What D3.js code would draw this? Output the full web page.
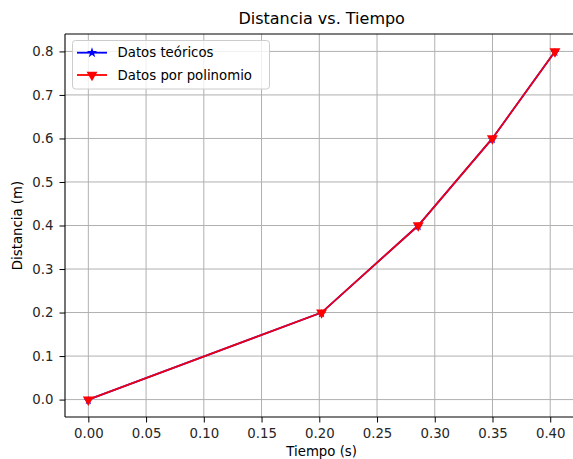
<!DOCTYPE html>
<html>
<head>
<meta charset="utf-8">
<script src="https://cdn.jsdelivr.net/npm/d3@7"></script>
<style>
  html, body { margin: 0; padding: 0; background: #fff; }
  svg { display: block; font-family: "DejaVu Sans", sans-serif; }
</style>
</head>
<body>
<div id="chart"></div>
<script>
  // values
  const tiempo = [0.0, 0.2020, 0.2857, 0.3499, 0.4041];
  const teoricos = [0.0, 0.2, 0.4, 0.6, 0.8];
  const polinomio = [0.0, 0.2, 0.4, 0.6, 0.8];
  const xTicks = [0.00, 0.05, 0.10, 0.15, 0.20, 0.25, 0.30, 0.35, 0.40];
  const yTicks = [0.0, 0.1, 0.2, 0.3, 0.4, 0.5, 0.6, 0.7, 0.8];
  const seriesNames = ['Datos teóricos', 'Datos por polinomio'];

  const W = 573, H = 459;
  const pL = 65, pR = 578.3, pT = 34, pB = 417;

  const svg = d3.select('#chart').append('svg')
    .attr('width', W).attr('height', H);

  // matplotlib-style 5% margins
  const xSpan = d3.max(tiempo) - d3.min(tiempo);
  const x = d3.scaleLinear()
    .domain([d3.min(tiempo) - xSpan * 0.05, d3.max(tiempo) + xSpan * 0.05])
    .range([pL, pR]);
  const ySpan = d3.max(teoricos) - d3.min(teoricos);
  const y = d3.scaleLinear()
    .domain([d3.min(teoricos) - ySpan * 0.05, d3.max(teoricos) + ySpan * 0.05])
    .range([pB, pT]);

  // grid
  const grid = svg.append('g').attr('stroke', '#b0b0b0').attr('stroke-width', 1);
  grid.selectAll('.gx').data(xTicks).join('line').attr('class', 'gx')
    .attr('x1', d => x(d)).attr('x2', d => x(d))
    .attr('y1', pT).attr('y2', pB);
  grid.selectAll('.gy').data(yTicks).join('line').attr('class', 'gy')
    .attr('x1', pL).attr('x2', pR)
    .attr('y1', d => y(d)).attr('y2', d => y(d));

  // axes
  const xAxis = svg.append('g')
    .attr('transform', `translate(0,${pB})`)
    .call(d3.axisBottom(x).tickValues(xTicks).tickFormat(d3.format('.2f')).tickSize(5.5).tickPadding(6));
  const yAxis = svg.append('g')
    .attr('transform', `translate(${pL},0)`)
    .call(d3.axisLeft(y).tickValues(yTicks).tickFormat(d3.format('.1f')).tickSize(5.5).tickPadding(6));
  [xAxis, yAxis].forEach(a => {
    a.selectAll('text').attr('font-size', 13.3).attr('fill', '#262626')
      .attr('font-family', '"DejaVu Sans", sans-serif');
    a.selectAll('.tick line').attr('stroke', '#000').attr('stroke-width', 1);
    a.select('.domain').remove();
  });

  // spines
  svg.append('line').attr('x1', pL).attr('x2', pR).attr('y1', pB).attr('y2', pB)
    .attr('stroke', '#000').attr('stroke-width', 1.1);
  svg.append('line').attr('x1', pL).attr('x2', pR).attr('y1', pT).attr('y2', pT)
    .attr('stroke', '#000').attr('stroke-width', 1.1);
  svg.append('line').attr('x1', pL).attr('x2', pL).attr('y1', pT).attr('y2', pB)
    .attr('stroke', '#000').attr('stroke-width', 1.1);

  const line = d3.line().x(d => x(d[0])).y(d => y(d[1]));
  const star = d3.symbol().type(d3.symbolStar).size(24);
  const tri = d3.symbol().type(d3.symbolTriangle).size(52);

  // teóricos (blue, star), drawn first and covered by polinomio
  const blue = '#0000ff', red = '#ff0000';
  const dataT = tiempo.map((t, i) => [t, teoricos[i]]);
  const dataP = tiempo.map((t, i) => [t, polinomio[i]]);

  svg.append('path').datum(dataT).attr('d', line)
    .attr('fill', 'none').attr('stroke', blue).attr('stroke-width', 1.8);
  svg.selectAll('.st').data(dataT).join('path').attr('class', 'st')
    .attr('d', star).attr('fill', blue)
    .attr('transform', d => `translate(${x(d[0])},${y(d[1]) + 1})`);

  svg.append('path').datum(dataP).attr('d', line)
    .attr('fill', 'none').attr('stroke', red).attr('stroke-opacity', 0.93).attr('stroke-width', 1.8);
  svg.selectAll('.tr').data(dataP).join('path').attr('class', 'tr')
    .attr('d', tri).attr('fill', red)
    .attr('transform', d => `translate(${x(d[0])},${y(d[1])}) rotate(180)`);

  // title + axis labels
  svg.append('text').attr('x', (pL + pR) / 2).attr('y', 24)
    .attr('text-anchor', 'middle').attr('font-size', 16).attr('fill', '#000')
    .text('Distancia vs. Tiempo');
  svg.append('text').attr('x', (pL + pR) / 2).attr('y', 455.5)
    .attr('text-anchor', 'middle').attr('font-size', 13.3).attr('fill', '#000')
    .text('Tiempo (s)');
  svg.append('text')
    .attr('transform', `translate(22,${(pT + pB) / 2}) rotate(-90)`)
    .attr('text-anchor', 'middle').attr('font-size', 13.3).attr('fill', '#000')
    .text('Distancia (m)');

  // legend
  const lg = svg.append('g');
  lg.append('rect').attr('x', 72.5).attr('y', 40.5).attr('width', 197).attr('height', 48.5)
    .attr('rx', 3).attr('fill', '#fff').attr('fill-opacity', 0.8)
    .attr('stroke', '#cccccc').attr('stroke-width', 1);
  const rows = [
    { name: seriesNames[0], color: blue, sym: d3.symbol().type(d3.symbolStar).size(34), rot: 0, cy: 52.7 },
    { name: seriesNames[1], color: red, sym: tri, rot: 180, cy: 75 }
  ];
  rows.forEach(r => {
    lg.append('line').attr('x1', 77).attr('x2', 107).attr('y1', r.cy).attr('y2', r.cy)
      .attr('stroke', r.color).attr('stroke-width', 1.8);
    lg.append('path').attr('d', r.sym).attr('fill', r.color)
      .attr('transform', `translate(92,${r.cy}) rotate(${r.rot})`);
    lg.append('text').attr('x', 117.5).attr('y', r.cy).attr('dy', '0.35em')
      .attr('font-size', 13.3).attr('fill', '#000').text(r.name);
  });
</script>
</body>
</html>
